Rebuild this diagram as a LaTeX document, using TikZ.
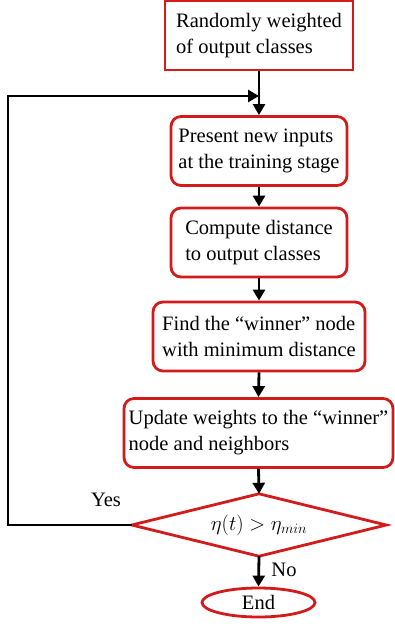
\documentclass[tikz,border=0pt]{standalone}
\usepackage{fontspec}
\setmainfont{Liberation Serif}
\usetikzlibrary{arrows.meta,shapes.geometric,calc}
\definecolor{boxred}{RGB}{210,28,28}
\begin{document}
\begin{tikzpicture}[x=1pt,y=-1pt,
  every node/.style={font=\fontsize{20.5}{26}\selectfont},
  stepbox/.style={draw=boxred,line width=2.8pt,fill=white,rounded corners=10pt,
    align=left,inner sep=2pt,minimum height=69pt},
  startbox/.style={stepbox,rounded corners=0pt},
  decisionarea/.style={inner sep=0pt,minimum width=254pt,minimum height=62pt,
    font=\fontsize{22}{26}\selectfont},
  terminal/.style={draw=boxred,line width=2.8pt,ellipse,inner sep=0pt,
    minimum width=113pt,minimum height=29pt},
  arr/.style={line width=2.8pt,-{Triangle[length=11pt,width=12pt]}},
  plain/.style={line width=2.8pt}]
\useasboundingbox (0,0) rectangle (395,628);

\node[startbox,minimum width=188pt] (init) at (259,35.5)
  {Randomly weighted\\of output classes};
\node[stepbox,minimum width=176pt] (present) at (259,151)
  {Present new inputs\\at the training stage};
\node[stepbox,minimum width=176pt] (compute) at (259,242.5)
  {Compute distance\\to output classes};
\node[stepbox,minimum width=212pt] (find) at (259,336.5)
  {Find the “winner” node\\with minimum distance};
\node[stepbox,minimum width=269pt,inner sep=1pt] (update) at (258.5,433)
  {Update weights to the “winner”\\node and neighbors};
\node[decisionarea] (check) at (259,525) {$\eta(t) > \eta_{min}$};
\draw[draw=boxred,line width=2.8pt,line join=miter]
  (check.north) -- (check.east) -- (check.south) -- (check.west) -- cycle;
\node[terminal] (stop) at (258.5,602.5) {End};

\coordinate (join) at (init.south |- 0,96);
\coordinate (back) at (8,96);

\draw[plain] (init.south) -- (join);
\draw[arr] (join) -- (present.north);
\draw[arr] (present.south) -- (compute.north);
\draw[arr] (compute.south) -- (find.north);
\draw[arr] (find.south) -- (update.north);
\draw[arr] (update.south) -- (check.north);
\draw[arr] (check.south) -- (stop.north);
\draw[arr] (check.west) -| (back) -- (join);

\node (yes) at (106,500) {Yes};
\node (no) at (284,570) {No};
\end{tikzpicture}
\end{document}
